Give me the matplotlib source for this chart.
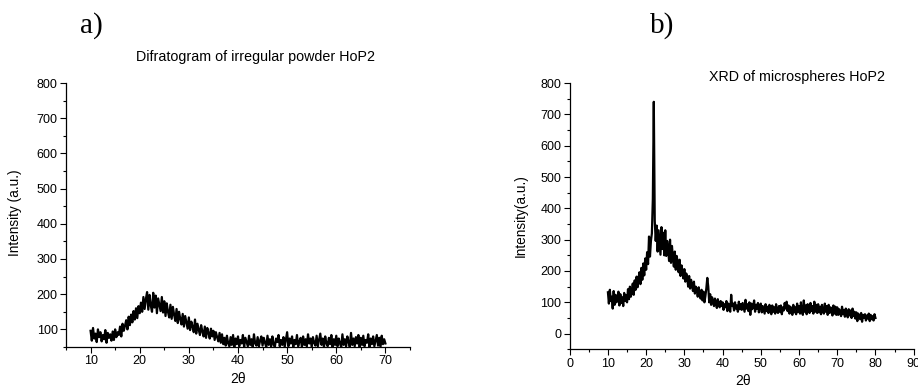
import numpy as np
import matplotlib
matplotlib.use("Agg")
import matplotlib.pyplot as plt
from matplotlib.ticker import MultipleLocator

# ---------------- data ----------------
two_theta_a = np.arange(10.0, 70.001, 0.25)
intensity_a = [
    96, 68, 104, 74, 88, 64, 100, 78, 92, 66, 84, 72, 98, 62, 90, 76, 86, 68, 94, 70,
    100, 78, 92, 84, 108, 80, 116, 96, 110, 126, 100, 136, 112, 142, 120, 152, 128, 160, 132, 166,
    146, 176, 150, 192, 158, 186, 206, 156, 198, 168, 150, 204, 162, 196, 146, 188, 170, 152, 192, 148,
    180, 138, 174, 150, 134, 170, 130, 164, 142, 124, 158, 118, 150, 130, 114, 144, 108, 138, 120, 102,
    134, 98, 122, 108, 92, 128, 88, 116, 100, 84, 112, 94, 80, 108, 76, 104, 90, 74, 102, 80,
    96, 70, 92, 78, 66, 90, 62, 86, 58, 76, 54, 82, 60, 52, 78, 56, 84, 50, 74, 58,
    80, 52, 70, 60, 84, 50, 76, 64, 52, 82, 56, 72, 50, 86, 60, 54, 78, 52, 68, 80,
    54, 76, 62, 50, 82, 56, 72, 52, 80, 58, 50, 74, 64, 84, 52, 70, 56, 78, 50, 72,
    92, 52, 74, 60, 80, 50, 70, 58, 84, 52, 66, 76, 50, 80, 56, 72, 52, 86, 60, 74,
    50, 78, 62, 54, 82, 52, 70, 88, 56, 74, 50, 80, 60, 52, 76, 58, 84, 50, 72, 56,
    82, 52, 74, 60, 50, 86, 56, 72, 52, 80, 64, 50, 90, 56, 74, 52, 78, 60, 84, 50,
    76, 56, 82, 52, 70, 62, 86, 50, 74, 58, 80, 52, 68, 84, 54, 76, 50, 82, 58, 72,
    60,
]

two_theta_b = np.arange(10.0, 80.001, 0.25)
intensity_b = [
    132, 96, 140, 104, 118, 80, 136, 92, 124, 100, 110, 134, 90, 126, 98, 116, 88, 130, 104, 122,
    100, 142, 110, 150, 118, 136, 160, 124, 170, 140, 182, 148, 176, 196, 158, 210, 172, 224, 186, 240,
    204, 260, 222, 310, 246, 296, 320, 430, 740, 360, 296, 345, 262, 330, 290, 252, 340, 270, 322, 250,
    330, 248, 296, 270, 232, 300, 226, 280, 244, 214, 262, 204, 248, 226, 196, 236, 184, 218, 200, 176,
    206, 166, 192, 178, 150, 184, 144, 172, 156, 136, 166, 128, 150, 140, 118, 148, 124, 112, 140, 106,
    134, 100, 120, 145, 178, 150, 100, 126, 92, 116, 104, 88, 112, 96, 82, 110, 92, 84, 104, 88,
    100, 76, 94, 84, 104, 72, 96, 82, 70, 124, 88, 96, 74, 100, 80, 90, 70, 102, 78, 94,
    76, 98, 84, 70, 108, 80, 94, 72, 100, 60, 96, 78, 88, 106, 70, 92, 80, 98, 68, 90,
    96, 68, 88, 76, 64, 94, 72, 86, 66, 92, 74, 62, 90, 70, 84, 64, 94, 72, 66, 88,
    70, 90, 62, 84, 74, 98, 80, 102, 72, 90, 64, 86, 74, 60, 92, 68, 84, 62, 96, 70,
    88, 64, 100, 72, 60, 106, 70, 90, 62, 94, 76, 66, 98, 72, 88, 64, 102, 70, 92, 66,
    94, 68, 86, 62, 92, 74, 64, 96, 70, 88, 60, 92, 66, 84, 72, 58, 90, 64, 86, 60,
    84, 60, 78, 66, 56, 86, 62, 76, 54, 80, 64, 52, 78, 58, 74, 50, 80, 56, 70, 48,
    68, 40, 64, 52, 46, 66, 38, 60, 50, 62, 42, 58, 48, 64, 40, 60, 46, 56, 42, 62,
    50,
]
assert len(intensity_a) == len(two_theta_a)
assert len(intensity_b) == len(two_theta_b)

x_ticks_a = [10, 20, 30, 40, 50, 60, 70]
y_ticks_a = [100, 200, 300, 400, 500, 600, 700, 800]
x_ticks_b = [0, 10, 20, 30, 40, 50, 60, 70, 80, 90]
y_ticks_b = [0, 100, 200, 300, 400, 500, 600, 700, 800]

# ---------------- figure ----------------
plt.rcParams['font.family'] = ['Liberation Sans', 'DejaVu Sans']
fig = plt.figure(figsize=(9.18, 3.89), dpi=100)

def style(ax):
    for s in ('top', 'right'):
        ax.spines[s].set_visible(False)
    for s in ('left', 'bottom'):
        ax.spines[s].set_linewidth(0.9)
    ax.tick_params(which='major', direction='out', length=4, width=0.8, labelsize=9, pad=2)
    ax.tick_params(which='minor', direction='out', length=2, width=0.8)

ax1 = fig.add_axes([0.0719, 0.108, 0.3747, 0.6786])
ax1.plot(two_theta_a, intensity_a, color='black', lw=1.6)
ax1.set_xlim(5, 75)
ax1.set_ylim(50, 800)
ax1.set_xticks(x_ticks_a)
ax1.set_yticks(y_ticks_a)
ax1.xaxis.set_minor_locator(MultipleLocator(5))
ax1.yaxis.set_minor_locator(MultipleLocator(50))
style(ax1)

ax2 = fig.add_axes([0.6206, 0.102, 0.3747, 0.6846])
ax2.plot(two_theta_b, intensity_b, color='black', lw=1.6)
ax2.set_xlim(0, 90)
ax2.set_ylim(-50, 800)
ax2.set_xticks(x_ticks_b)
ax2.set_yticks(y_ticks_b)
ax2.xaxis.set_minor_locator(MultipleLocator(5))
ax2.yaxis.set_minor_locator(MultipleLocator(50))
style(ax2)

# texts
fig.text(0.278, 0.853, 'Difratogram of irregular powder HoP2', ha='center', va='center', fontsize=10.3)
fig.text(0.868, 0.802, 'XRD of microspheres HoP2', ha='center', va='center', fontsize=10.3)
fig.text(0.100, 0.935, 'a)', ha='center', va='center', fontsize=21, family='Liberation Serif')
fig.text(0.721, 0.935, 'b)', ha='center', va='center', fontsize=21, family='Liberation Serif')
fig.text(0.0163, 0.452, 'Intensity (a.u.)', rotation=90, ha='center', va='center', fontsize=9.8)
fig.text(0.5675, 0.447, 'Intensity(a.u.)', rotation=90, ha='center', va='center', fontsize=9.8)
fig.text(238 / 918, 0.025, '2θ', ha='center', va='center', fontsize=10)
fig.text(743 / 918, 0.020, '2θ', ha='center', va='center', fontsize=10)

fig.savefig('out.png', dpi=100)
